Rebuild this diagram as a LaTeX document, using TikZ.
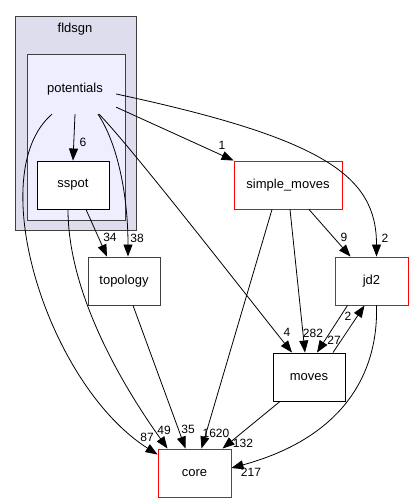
\documentclass[tikz,border=0pt]{standalone}
\usepackage{fontspec}
\setmainfont{Liberation Sans}
\usepackage{tikz}
\usetikzlibrary{arrows.meta, positioning, calc}

\definecolor{outerfill}{HTML}{DDDDEE}
\definecolor{innerfill}{HTML}{EEEEFF}
\definecolor{darkline}{HTML}{404040}

\begin{document}
\begin{tikzpicture}[
    x=1pt, y=-1pt,
    cluster/.style={rectangle, draw=darkline, line width=0.9pt, inner sep=0pt},
    dir/.style={rectangle, draw=black, fill=white, line width=0.9pt, minimum width=72pt, minimum height=48pt, inner sep=0pt, font=\fontsize{13}{15}\selectfont},
    dirred/.style={dir, draw=red},
    arrow/.style={-{Triangle[length=12pt, width=9pt]}, line width=0.8pt},
    edgelabel/.style={font=\fontsize{12}{14}\selectfont, inner sep=0pt}
]

\useasboundingbox (0,0) rectangle (413,503);

% Cluster fldsgn
\node[cluster, fill=outerfill, minimum width=121pt, minimum height=214pt] (fldsgn) at (75.5,123) {};
\node[font=\fontsize{13}{15}\selectfont] (fldsgnlabel) at (75,29) {fldsgn};

% Cluster potentials
\node[cluster, fill=innerfill, minimum width=98pt, minimum height=166pt] (potbox) at (76,137) {};
\node[minimum width=82pt, minimum height=50pt, inner sep=0pt, font=\fontsize{13}{15}\selectfont] (pot) at (75,89) {potentials};

% Directories
\node[dir] (sspot) at (73,185) {sspot};
\node[dirred, minimum width=108pt] (simple) at (288,185) {simple\_moves};
\node[dir, draw=darkline] (topo) at (124,281) {topology};
\node[dirred, minimum width=73pt] (jd2) at (371.5,281) {jd2};
\node[dir] (moves) at (309,377) {moves};
\node[dirred, minimum width=73pt] (core) at (194.5,473) {core};

% Edges from potentials
\draw[arrow] (pot.south) -- (sspot.north);
\draw[arrow] ([yshift=7pt]pot.south east) -- (simple.north west);
\draw[arrow] ([yshift=-5pt]pot.east) .. controls +(210,45) and +(0,-80) .. ([xshift=5pt]jd2.north);
\draw[arrow] ([xshift=23pt]pot.south) .. controls +(20,30) and +(0,-60) .. ([xshift=4pt]topo.north);
\draw[arrow] ([xshift=24pt]pot.south) .. controls +(30,30) and +(-40,-50) .. ([xshift=-17pt]moves.north);
\draw[arrow] ([xshift=-23pt]pot.south) .. controls +(-70,60) and +(-110,-70) .. ([yshift=-6pt]core.north west);

% Edges from sspot
\draw[arrow] ([xshift=13pt]sspot.south) -- ([xshift=-17pt]topo.north);
\draw[arrow] ([xshift=-5pt]sspot.south) .. controls +(0,80) and +(-50,-70) .. ([xshift=-27pt]core.north);

% Edges from simple_moves
\draw[arrow] ([xshift=-16pt]simple.south) -- ([xshift=7pt]core.north);
\draw[arrow] ([xshift=2pt]simple.south) -- ([xshift=-4pt]moves.north);
\draw[arrow] ([xshift=21pt]simple.south) -- ([xshift=-21pt]jd2.north);

% Edges between jd2, moves, topology and core
\draw[arrow] ([xshift=9pt]topo.south) -- ([xshift=-9pt]core.north);
\draw[arrow] ([xshift=-24pt]jd2.south) -- ([xshift=8pt]moves.north);
\draw[arrow] ([xshift=24pt]moves.north) -- ([xshift=-7pt]jd2.south);
\draw[arrow] ([xshift=-29pt]moves.south) -- ([xshift=28pt]core.north);
\draw[arrow] ([xshift=5pt]jd2.south) .. controls +(2,70) and +(110,-30) .. ([yshift=5pt]core.east);

% Edge labels
\node[edgelabel] (l6) at (83,142) {6};
\node[edgelabel] (l1) at (222,145) {1};
\node[edgelabel] (l2a) at (385,238) {2};
\node[edgelabel] (l38) at (137,238) {38};
\node[edgelabel] (l34) at (110,237) {34};
\node[edgelabel] (l9) at (344,237) {9};
\node[edgelabel] (l4) at (287,332) {4};
\node[edgelabel] (l282) at (313,333) {282};
\node[edgelabel] (l27) at (334,340) {27};
\node[edgelabel] (l2b) at (348,316) {2};
\node[edgelabel] (l87) at (147,437) {87};
\node[edgelabel] (l49) at (164,430) {49};
\node[edgelabel] (l35) at (188,429) {35};
\node[edgelabel] (l1620) at (216,433) {1620};
\node[edgelabel] (l132) at (243,443) {132};
\node[edgelabel] (l217) at (251,472) {217};

\end{tikzpicture}
\end{document}
